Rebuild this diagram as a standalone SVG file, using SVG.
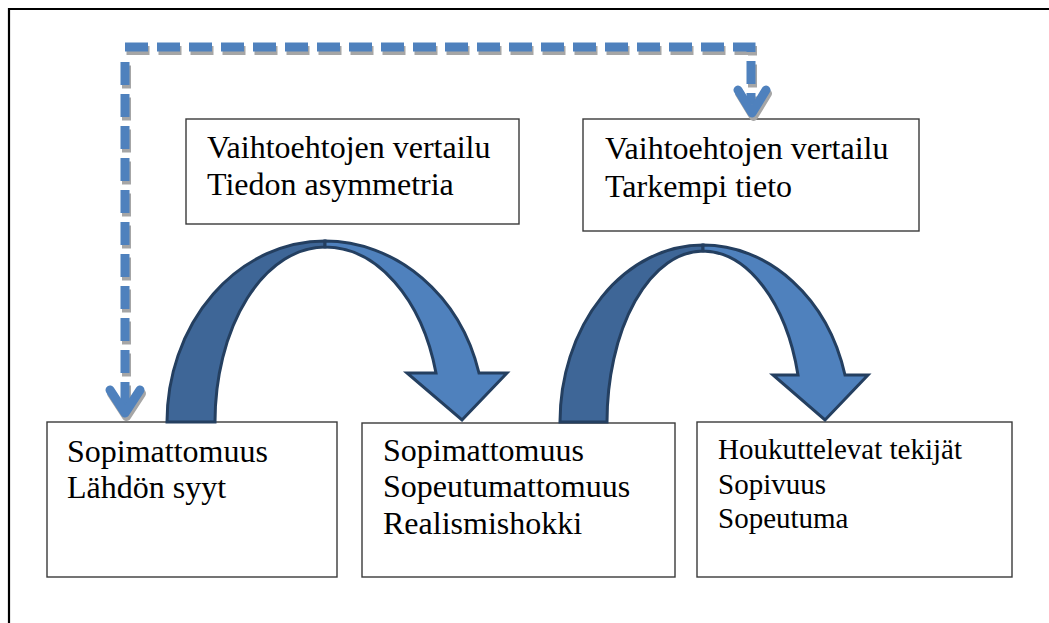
<svg xmlns="http://www.w3.org/2000/svg" width="1049" height="623" viewBox="0 0 1049 623">
<style>
.box{fill:#fff;stroke:#3a3a3a;stroke-width:1.4}
.t{font-family:"Liberation Serif","Times New Roman","DejaVu Serif",serif;font-size:32px;fill:#000}
.s{font-size:29px}
.dash{fill:none;stroke-width:9;stroke-dasharray:23 9;stroke-linejoin:miter}
.chev{fill:none;stroke-width:9;stroke-linecap:round;stroke-linejoin:round}
.dk{fill:#3e6697;stroke:#243f60;stroke-width:3;stroke-linejoin:miter}
.lt{fill:#4f81bd;stroke:#243f60;stroke-width:3;stroke-linejoin:miter}
</style>
<rect width="1049" height="623" fill="#fff"/>
<path d="M9,623 V9 H1049" fill="none" stroke="#000" stroke-width="2.2"/>
<g id="box-a"><rect class="box" x="186" y="119" width="333" height="105"/>
<text class="t" x="207" y="158">Vaihtoehtojen vertailu</text><text class="t" x="207" y="195">Tiedon asymmetria</text></g>
<g id="box-b"><rect class="box" x="583" y="119" width="336" height="112"/>
<text class="t" x="605" y="159">Vaihtoehtojen vertailu</text><text class="t" x="605" y="197">Tarkempi tieto</text></g>
<g id="box-c"><rect class="box" x="47" y="422" width="290" height="155"/>
<text class="t" x="67" y="462">Sopimattomuus</text><text class="t" x="67" y="498">Lähdön syyt</text></g>
<g id="box-d"><rect class="box" x="362" y="423" width="313" height="154"/>
<text class="t" x="383" y="461">Sopimattomuus</text><text class="t" x="383" y="497">Sopeutumattomuus</text><text class="t" x="383" y="534">Realismishokki</text></g>
<g id="box-e"><rect class="box" x="697" y="422" width="315" height="155"/>
<text class="t s" x="718" y="459">Houkuttelevat tekijät</text><text class="t s" x="718" y="494">Sopivuus</text><text class="t s" x="718" y="528">Sopeutuma</text></g>
<g id="connectors">
<g transform="translate(1.5,3.5)" stroke="#a6a6a6">
<path class="dash" d="M125,47 H751 V104"/>
<path class="dash" d="M125,62 V405" stroke-dasharray="24 8"/>
<polyline class="chev" points="738,90 752,113 766,90"/>
<polyline class="chev" points="110,390 125,413 140,390"/>
</g>
<g stroke="#4f81bd">
<path class="dash" d="M125,47 H751 V104"/>
<path class="dash" d="M125,62 V405" stroke-dasharray="24 8"/>
<polyline class="chev" points="738,90 752,113 766,90"/>
<polyline class="chev" points="110,390 125,413 140,390"/>
</g>
<g id="curved-1">
<path class="dk" d="M167,422 A158,181 0 0 1 325,241 L325,247 A110,175 0 0 0 215,422 Z"/>
<path class="lt" d="M325,241 A160,179 0 0 1 479,373 L507,373 L462,420 L407,373 L436,373 A115,173 0 0 0 325,247 Z"/>
</g>
<g id="curved-2">
<path class="dk" d="M560,422 A143,177 0 0 1 703,245 L703,251 A96,171 0 0 0 607,422 Z"/>
<path class="lt" d="M703,245 A147,175 0 0 1 845,375 L868,375 L825,420 L773,375 L798,375 A99,169 0 0 0 703,251 Z"/>
</g>
</g>
</svg>
